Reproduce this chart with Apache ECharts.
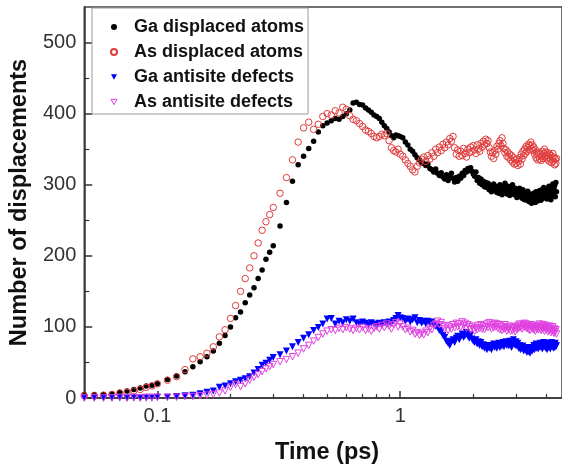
<!DOCTYPE html>
<html>
<head>
<meta charset="utf-8">
<script src="https://cdn.jsdelivr.net/npm/echarts@6/dist/echarts.min.js"></script>
<style>html,body{margin:0;padding:0;background:#fff;}#c{width:562px;height:470px;}</style>
</head>
<body>
<div id="c"></div>
<script>
const times = [0.05,0.055,0.06,0.065,0.07,0.075,0.08,0.085,0.09,0.095,0.1,
0.11,0.12,0.13,0.14,0.15,0.16,0.17,0.18,0.19,0.2,0.21,0.22,0.23,0.24,0.25,0.26,0.27,0.28,0.29,0.3,
0.32,0.34,0.36,0.38,0.4,0.42,0.44,0.46,0.48,0.5,0.52,0.54,0.56,0.58,0.6,0.62,0.64,0.66,0.68,0.7,0.72,0.74,0.76,0.78,0.8,0.82,0.84,0.86,0.88,0.9,0.92,0.94,0.96,0.98,1.0,
1.025,1.05,1.075,1.1,1.125,1.15,1.175,1.2,1.225,1.25,
1.275,1.3,1.325,1.35,1.375,1.4,1.425,1.45,1.475,1.5,
1.525,1.55,1.575,1.6,1.625,1.65,1.675,1.7,1.725,1.75,
1.775,1.8,1.825,1.85,1.875,1.9,1.925,1.95,1.975,2.0,
2.025,2.05,2.075,2.1,2.125,2.15,2.175,2.2,2.225,2.25,
2.275,2.3,2.325,2.35,2.375,2.4,2.425,2.45,2.475,2.5,
2.525,2.55,2.575,2.6,2.625,2.65,2.675,2.7,2.725,2.75,
2.775,2.8,2.825,2.85,2.875,2.9,2.925,2.95,2.975,3.0,
3.025,3.05,3.075,3.1,3.125,3.15,3.175,3.2,3.225,3.25,
3.275,3.3,3.325,3.35,3.375,3.4,3.425,3.45,3.475,3.5,
3.525,3.55,3.575,3.6,3.625,3.65,3.675,3.7,3.725,3.75,
3.775,3.8,3.825,3.85,3.875,3.9,3.925,3.95,3.975,4.0,
4.025,4.05,4.075,4.1,4.125,4.15,4.175,4.2,4.225,4.25,
4.275,4.3,4.325,4.35,4.375,4.4];

const gaDisplaced = [5,5,5,6,8,10,12,14,17,18,20,
26,31,37,44,51,58,66,77,88,100,113,121,134,145,155,168,180,195,205,214,
242,275,305,328,340,351,361,374,383,387,390,393,392,396,400,405,415,416,413,412,408,405,402,398,396,393,388,383,379,374,369,366,370,369,368,
366,360,356,350,347,342,338,335,331,330,
327,329,323,321,318,322,316,313,317,311,
308,314,306,311,316,309,304,310,305,312,
309,316,313,320,318,323,320,324,319,315,
312,318,306,310,302,308,300,305,297,303,
296,302,293,299,290,297,301,292,298,289,
296,288,300,292,286,297,290,302,294,287,
298,291,285,296,289,300,293,286,295,288,
282,292,287,295,284,290,281,293,286,279,
289,283,278,291,284,276,287,280,274,285,
279,288,282,275,290,283,277,286,280,292,
284,278,293,287,281,296,289,283,294,286,
280,292,287,298,284,291,279,296,288,301,
285,294,299,283,303,290];

const asDisplaced = [3,3,4,5,7,8,10,12,15,17,20,
25,30,40,55,58,63,72,86,96,112,130,150,168,183,200,218,236,248,258,268,
288,310,335,360,380,388,378,385,396,400,398,404,401,409,406,397,392,390,386,382,377,375,372,368,366,368,371,369,372,362,352,348,346,350,343,
340,335,330,326,321,318,326,331,336,339,
333,341,336,345,340,350,345,353,348,357,
352,360,356,365,361,368,352,343,349,340,
347,341,351,344,339,350,345,353,347,355,
349,344,356,350,347,358,353,361,356,364,
358,362,352,346,340,345,337,348,343,354,
350,358,362,355,366,358,351,345,349,340,
346,338,343,335,341,332,338,329,335,330,
336,327,333,338,329,343,336,347,341,350,
344,354,347,352,357,349,355,360,351,356,
348,353,343,349,338,344,335,346,340,336,
343,334,340,347,337,344,350,339,346,341,
336,345,339,333,343,336,341,331,338,344,
333,339,328,336,330,337];

const gaAntisite = [0,0,0,0,0,0,0,0,0,0,1,
1,2,3,4,6,8,10,15,17,20,23,25,27,30,35,40,46,49,53,57,
61,66,72,78,84,89,95,99,104,111,112,104,108,106,110,108,111,106,104,107,105,103,106,104,102,105,103,106,104,107,105,109,112,116,113,
112,108,111,107,110,113,106,109,105,108,
104,108,105,107,103,101,99,95,93,88,
85,80,77,74,79,82,78,84,87,82,
86,90,85,88,92,87,84,89,83,80,
78,82,76,79,74,78,72,75,70,74,
68,72,70,74,68,73,76,71,75,70,
74,77,71,76,73,78,72,76,79,74,
78,73,80,75,71,77,82,76,74,79,
73,77,70,74,68,72,69,73,66,70,
67,71,64,68,65,70,63,67,71,66,
70,74,68,72,76,70,74,69,75,72,
77,71,75,69,74,78,72,76,70,74,
68,73,77,71,75,69,74,78,72,76,
70,75,71,77,72,74];

const asAntisite = [0,0,0,0,1,0,1,0,1,1,1,
1,1,2,2,3,4,5,7,10,15,19,16,20,25,29,33,37,41,44,47,
51,54,58,63,69,74,80,85,90,94,96,95,98,96,99,97,95,98,96,99,95,97,94,98,100,97,102,99,104,101,97,103,106,100,104,
100,96,98,93,95,90,92,88,91,89,
94,92,98,96,102,104,108,103,106,101,
97,102,95,100,97,103,99,105,100,104,
99,107,102,105,98,103,100,96,101,97,
94,99,96,102,98,103,97,101,96,100,
104,99,106,101,97,103,99,105,100,104,
98,103,96,101,95,100,97,103,99,94,
99,96,101,94,98,95,100,97,93,99,
96,102,98,104,99,101,97,103,100,105,
99,104,98,102,96,101,95,100,103,97,
101,96,99,94,100,97,102,96,99,104,
98,95,101,97,103,99,94,100,96,102,
97,93,99,95,101,96,92,98,94,100,
95,91,97,93,96,90];

const seriesNames = ['Ga displaced atoms','As displaced atoms','Ga antisite defects','As antisite defects'];
const xMajorTicks = [0.1, 1];
const xMinorTicks = [0.06,0.07,0.08,0.09,0.2,0.3,0.4,0.5,0.6,0.7,0.8,0.9,2,3,4];
const yMajorTicks = [0,100,200,300,400,500];
const yMinorTicks = [50,150,250,350,450];

function pairs(vals){ return times.map((t,i)=>[t, vals[i]]); }

const FONT = "'Liberation Sans', Arial, sans-serif";
const AX = '#333';
const XMIN = 0.05, XMAX = 4.637, YMIN = 0, YMAX = 550;
const DOWN_TRI = 'path://M0,0 L10,0 L5,9 Z';

const chart = echarts.init(document.getElementById('c'), null, {renderer:'canvas'});
chart.setOption({
  animation: false,
  backgroundColor: '#fff',
  grid: { left: 82, right: -2, top: 7, bottom: 69, show: true, borderColor: '#444', borderWidth: 1.5, backgroundColor: 'transparent' },
  legend: {
    data: [
      { name: seriesNames[0] },
      { name: seriesNames[1] },
      { name: seriesNames[2], icon: DOWN_TRI, itemStyle: { color: '#0000ff' } },
      { name: seriesNames[3], icon: DOWN_TRI, itemStyle: { color: 'rgba(255,255,255,0)', borderColor: '#e040e0', borderWidth: 1 } }
    ],
    orient: 'vertical', left: 92, top: 8,
    itemWidth: 6, itemHeight: 6, itemGap: 7,
    padding: [10, 4, 3, 18],
    borderColor: '#999', borderWidth: 1, backgroundColor: '#fff',
    textStyle: { fontFamily: FONT, fontWeight: 'bold', fontSize: 18, color: '#111', lineHeight: 18, padding: [0, 0, 0, 12] }
  },
  xAxis: [
    {
      type: 'log', logBase: 10, min: XMIN, max: XMAX, gridIndex: 0, position: 'bottom',
      name: 'Time (ps)', nameLocation: 'middle', nameGap: 43,
      nameTextStyle: { fontFamily: FONT, fontWeight: 'bold', fontSize: 23.5, color: '#111', padding: [0,0,0,8] },
      axisLine: { show: true, lineStyle: { color: AX, width: 1.5 } },
      axisTick: { show: true, inside: true, length: 7, customValues: xMajorTicks, lineStyle: { color: AX, width: 1.5 } },
      axisLabel: { show: true, customValues: xMajorTicks, margin: 8, fontFamily: FONT, fontSize: 20, color: '#333',
        formatter: v => String(Math.round(v*1000)/1000) },
      splitLine: { show: false }, minorTick: { show: false }
    },
    {
      type: 'log', logBase: 10, min: XMIN, max: XMAX, gridIndex: 0, position: 'bottom',
      axisLine: { show: false },
      axisTick: { show: true, inside: true, length: 4, customValues: xMinorTicks, lineStyle: { color: AX, width: 1.2 } },
      axisLabel: { show: false }, splitLine: { show: false }
    }
  ],
  yAxis: [
    {
      type: 'value', min: YMIN, max: YMAX, interval: 100, gridIndex: 0, position: 'left',
      name: 'Number of displacements', nameLocation: 'middle', nameGap: 45,
      nameTextStyle: { fontFamily: FONT, fontWeight: 'bold', fontSize: 23.5, color: '#111' },
      axisLine: { show: true, lineStyle: { color: AX, width: 1.5 } },
      axisTick: { show: true, inside: true, length: 8, customValues: yMajorTicks, lineStyle: { color: AX, width: 1.5 } },
      axisLabel: { show: true, customValues: yMajorTicks, margin: 8, fontFamily: FONT, fontSize: 20, color: '#333' },
      splitLine: { show: false }
    },
    {
      type: 'value', min: YMIN, max: YMAX, gridIndex: 0, position: 'left',
      axisLine: { show: false },
      axisTick: { show: true, inside: true, length: 5, customValues: yMinorTicks, lineStyle: { color: AX, width: 1.2 } },
      axisLabel: { show: false }, splitLine: { show: false }
    }
  ],
  series: [
    { name: seriesNames[0], type: 'scatter', xAxisIndex: 0, yAxisIndex: 0, data: pairs(gaDisplaced),
      symbol: 'circle', symbolSize: 5.5, itemStyle: { color: '#000', opacity: 1 } },
    { name: seriesNames[1], type: 'scatter', xAxisIndex: 0, yAxisIndex: 0, data: pairs(asDisplaced),
      symbol: 'circle', symbolSize: 6.5, itemStyle: { color: 'rgba(255,255,255,0)', borderColor: '#e03c3c', borderWidth: 1, opacity: 1 } },
    { name: seriesNames[2], type: 'scatter', xAxisIndex: 0, yAxisIndex: 0, data: pairs(gaAntisite),
      symbol: 'triangle', symbolRotate: 180, symbolSize: 7, itemStyle: { color: '#0000ff', opacity: 1 } },
    { name: seriesNames[3], type: 'scatter', xAxisIndex: 0, yAxisIndex: 0, data: pairs(asAntisite),
      symbol: 'triangle', symbolRotate: 180, symbolSize: 6.5, itemStyle: { color: 'rgba(255,255,255,0)', borderColor: '#e040e0', borderWidth: 1, opacity: 1 } }
  ]
});
</script>
</body>
</html>
